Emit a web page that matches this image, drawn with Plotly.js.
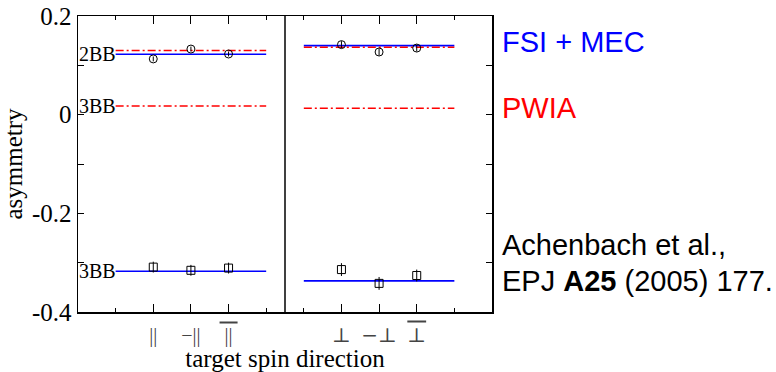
<!DOCTYPE html>
<html><head><meta charset="utf-8">
<script src="https://cdn.plot.ly/plotly-3.0.1.min.js"></script>
<style>html,body{margin:0;padding:0;background:#fff}</style>
</head><body><div id="chart" style="width:776px;height:372px"></div>
<script>
// tick positions / labels
const spinPositions = [2, 3, 4, 7, 8, 9];
const perpStyle = 'font-family:DejaVu Serif;font-size:20px';
const spinLabels = ['||', '\u2212||', '<span style="text-decoration:overline">\u00a0||\u00a0</span>',
                    '<span style="' + perpStyle + '">\u22a5</span>',
                    '<span style="' + perpStyle + '">\u2212\u22a5</span>',
                    '<span style="' + perpStyle + ';text-decoration:overline">\u22a5</span>'];
const minorTickPositions = [1, 5, 6, 10];
const yTickVals = [-0.4, -0.3, -0.2, -0.1, 0, 0.1, 0.2];
const yTickText = ['-0.4', '', '-0.2', '', '0', '', '0.2'];

// measured asymmetries
const x2BB = [2, 3, 4, 7, 8, 9];
const y2BB = [0.113, 0.133, 0.123, 0.142, 0.127, 0.135];
const e2BB = [0.005, 0.005, 0.005, 0.007, 0.007, 0.007];
const x3BB = [2, 3, 4, 7, 8, 9];
const y3BB = [-0.309, -0.3155, -0.311, -0.314, -0.342, -0.326];
const e3BB = [0.011, 0.011, 0.011, 0.013, 0.013, 0.012];

// theory lines, one value per panel [parallel, perpendicular]
const panelSpans = [[1, 5], [6, 10]];
const fsi2BB = [0.1224, 0.140];
const pwia2BB = [0.130, 0.1366];
const pwia3BB = [0.0176, 0.013];
const fsi3BB = [-0.3175, -0.337];
const panelSplit = 5.5;

const BLUE = '#0000ff', RED = '#ff0000';
const traces = [];
function theory(vals, color, dash) {
  vals.forEach((v, i) => {
    traces.push({x: panelSpans[i], y: [v, v], mode: 'lines', type: 'scatter', hoverinfo: 'skip',
      line: {color: color, width: 1.6, dash: dash}, showlegend: false});
  });
}
theory(fsi2BB, BLUE, 'solid');
theory(fsi3BB, BLUE, 'solid');
theory(pwia2BB, RED, '8px,3px,2px,3px');
theory(pwia3BB, RED, '8px,3px,2px,3px');

traces.push({x: x2BB, y: y2BB, mode: 'markers', type: 'scatter', showlegend: false,
  marker: {symbol: 'circle-open', size: 8, color: '#000', line: {width: 1, color: '#000'}},
  error_y: {type: 'data', array: e2BB, visible: true, width: 0, thickness: 1, color: '#000'}});
traces.push({x: x3BB, y: y3BB, mode: 'markers', type: 'scatter', showlegend: false,
  marker: {symbol: 'square-open', size: 8, color: '#000', line: {width: 1, color: '#000'}},
  error_y: {type: 'data', array: e3BB, visible: true, width: 0, thickness: 1, color: '#000'}});

const serif = 'Liberation Serif, Times New Roman, serif';
const sans = 'Liberation Sans, Arial, sans-serif';

const layout = {
  width: 776, height: 372,
  margin: {l: 78, r: 284, t: 16, b: 60},
  paper_bgcolor: '#fff', plot_bgcolor: '#fff',
  font: {family: serif, color: '#000'},
  xaxis: {
    range: [0, 11], showgrid: false, zeroline: false,
    showline: true, linewidth: 1.5, linecolor: '#000', mirror: 'ticks',
    ticks: 'inside', ticklen: 8, tickwidth: 1, tickcolor: '#000',
    tickmode: 'array', tickvals: spinPositions, ticktext: spinLabels,
    tickfont: {family: serif, size: 20, color: '#444'},
    ticklabelstandoff: 4,
    minor: {tickmode: 'array', tickvals: minorTickPositions, ticks: 'inside', ticklen: 4, tickwidth: 1, tickcolor: '#000'},
    title: {text: 'target spin direction', font: {family: serif, size: 25}, standoff: 3}
  },
  yaxis: {
    range: [-0.4, 0.2], showgrid: false, zeroline: false,
    showline: true, linewidth: 1.5, linecolor: '#000', mirror: 'ticks',
    ticks: 'inside', ticklen: 6, tickwidth: 1, tickcolor: '#000',
    tickmode: 'array', tickvals: yTickVals, ticktext: yTickText,
    tickfont: {family: serif, size: 25},
    title: {text: 'asymmetry', font: {family: serif, size: 25}, standoff: 3}
  },
  shapes: [{type: 'line', xref: 'x', yref: 'paper', x0: panelSplit, x1: panelSplit, y0: 0, y1: 1,
    line: {color: '#000', width: 1.5}}],
  annotations: [
    {text: '2BB', xref: 'paper', yref: 'y', x: 0, y: fsi2BB[0], xanchor: 'left', yanchor: 'middle', showarrow: false, font: {family: serif, size: 20}, borderpad: 0},
    {text: '3BB', xref: 'paper', yref: 'y', x: 0, y: pwia3BB[0], xanchor: 'left', yanchor: 'middle', showarrow: false, font: {family: serif, size: 20}, borderpad: 0},
    {text: '3BB', xref: 'paper', yref: 'y', x: 0, y: fsi3BB[0], xanchor: 'left', yanchor: 'middle', showarrow: false, font: {family: serif, size: 20}, borderpad: 0},
    {text: 'FSI + MEC', xref: 'paper', yref: 'paper', x: 1.02, y: 0.9105, xanchor: 'left', yanchor: 'middle', showarrow: false, font: {family: sans, size: 29, color: BLUE}},
    {text: 'PWIA', xref: 'paper', yref: 'paper', x: 1.02, y: 0.688, xanchor: 'left', yanchor: 'middle', showarrow: false, font: {family: sans, size: 29, color: RED}},
    {text: 'Achenbach et al.,', xref: 'paper', yref: 'paper', x: 1.02, y: 0.2263, xanchor: 'left', yanchor: 'middle', showarrow: false, font: {family: sans, size: 29, color: '#000'}},
    {text: 'EPJ <b>A25</b> (2005) 177.', xref: 'paper', yref: 'paper', x: 1.02, y: 0.105, xanchor: 'left', yanchor: 'middle', showarrow: false, font: {family: sans, size: 29, color: '#000'}}
  ]
};

Plotly.newPlot('chart', traces, layout, {staticPlot: true, displayModeBar: false});
</script>
</body></html>
